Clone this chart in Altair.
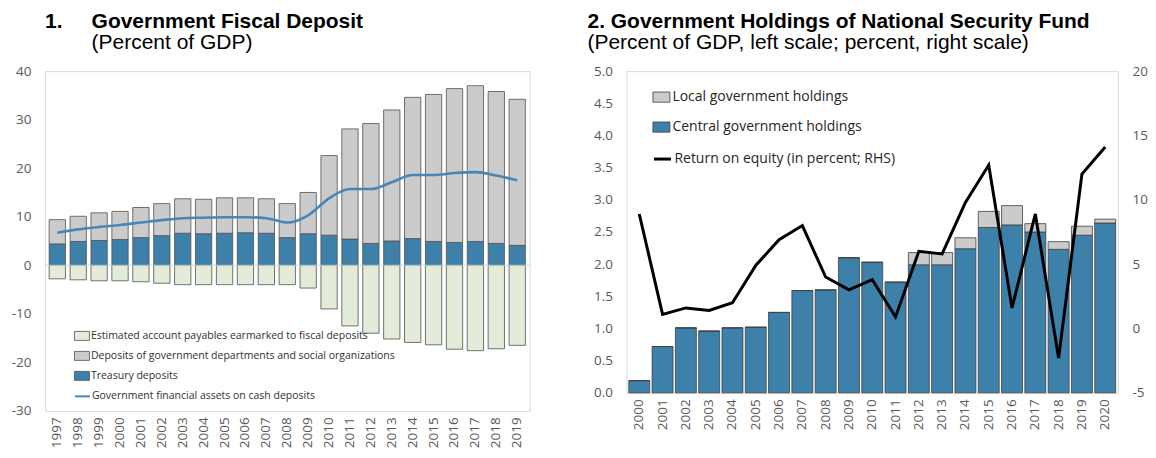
import altair as alt
import pandas as pd

# ---------------- Panel 1 data ----------------
years_l = ["1997", "1998", "1999", "2000", "2001", "2002", "2003", "2004", "2005", "2006", "2007", "2008",
           "2009", "2010", "2011", "2012", "2013", "2014", "2015", "2016", "2017", "2018", "2019"]
treasury = [4.4, 4.9, 5.1, 5.3, 5.7, 6.1, 6.6, 6.5, 6.6, 6.7, 6.6, 5.7,
            6.5, 6.2, 5.4, 4.5, 5.0, 5.5, 4.9, 4.7, 4.9, 4.5, 4.1]
departments = [5.0, 5.2, 5.7, 5.8, 6.2, 6.6, 7.1, 7.1, 7.3, 7.2, 7.1, 7.0,
               8.5, 16.4, 22.7, 24.7, 27.0, 29.1, 30.3, 31.7, 32.1, 31.3, 30.1]
payables = [-2.8, -3.0, -3.2, -3.2, -3.4, -3.7, -4.0, -4.0, -4.0, -4.0, -4.0, -4.0,
            -4.7, -9.0, -12.5, -14.0, -15.2, -15.9, -16.4, -17.3, -17.6, -17.2, -16.5]
fin_assets = [6.7, 7.4, 7.9, 8.3, 8.8, 9.3, 9.7, 9.8, 9.9, 9.9, 9.7, 8.8,
              10.3, 13.8, 15.7, 15.7, 17.1, 18.6, 18.6, 19.0, 19.2, 18.5, 17.5]

n_pay = "Estimated account payables earmarked to fiscal deposits"
n_dep = "Deposits of government departments and social organizations"
n_tre = "Treasury deposits"
n_fin = "Government financial assets on cash deposits"

# ---------------- Panel 2 data ----------------
years_r = ["2000", "2001", "2002", "2003", "2004", "2005", "2006", "2007", "2008", "2009", "2010",
           "2011", "2012", "2013", "2014", "2015", "2016", "2017", "2018", "2019", "2020"]
central = [0.19, 0.72, 1.01, 0.96, 1.01, 1.02, 1.25, 1.59, 1.60, 2.10, 2.03,
           1.72, 1.99, 1.99, 2.24, 2.57, 2.61, 2.50, 2.23, 2.45, 2.64]
local = [0.0, 0.0, 0.0, 0.0, 0.0, 0.0, 0.0, 0.0, 0.0, 0.0, 0.0,
         0.0, 0.19, 0.19, 0.17, 0.25, 0.30, 0.13, 0.12, 0.14, 0.06]
roe = [8.9, 1.1, 1.6, 1.4, 2.0, 4.9, 6.9, 8.0, 4.0, 3.0, 3.8,
       0.9, 6.0, 5.8, 9.8, 12.7, 1.6, 8.9, -2.3, 12.0, 14.1]

n_loc = "Local government holdings"
n_cen = "Central government holdings"
n_roe = "Return on equity (in percent; RHS)"

# ---------------- tables ----------------
rows = []
for i, y in enumerate(years_l):
    rows.append({"year": y, "series": n_pay, "value": payables[i], "ord": 0})
    rows.append({"year": y, "series": n_tre, "value": treasury[i], "ord": 1})
    rows.append({"year": y, "series": n_dep, "value": departments[i], "ord": 2})
df_l = pd.DataFrame(rows)
df_l_line = pd.DataFrame({"year": years_l, "value": fin_assets, "series": n_fin})

rows = []
for i, y in enumerate(years_r):
    rows.append({"year": y, "series": n_cen, "value": central[i], "ord": 1})
    rows.append({"year": y, "series": n_loc, "value": local[i], "ord": 2})
df_r = pd.DataFrame(rows)
df_r_line = pd.DataFrame({"year": years_r, "value": roe, "series": n_roe})

AX_FONT = "Open Sans"
LBL = "#595959"
BLUE = "#3d80aa"
HATCH = "#cbcbcb"
GREEN = "#e3ecd9"
RECT = "M-1,-0.6H1V0.6H-1Z"
HYPHEN = "replace(datum.label, '\u2212', '-')"
NB = "\u00a0"


def x_axis():
    return alt.Axis(title=None, labelAngle=-90, labelFont=AX_FONT, labelFontSize=13.5,
                    labelColor=LBL, ticks=False, domain=False, labelPadding=6,
                    labelBaseline="middle", labelAlign="right")


def title(text, subtitle, dx):
    return alt.TitleParams(
        text=text, subtitle=subtitle, anchor="start", frame="group", dx=dx, offset=11,
        font="Liberation Sans", fontSize=21, fontWeight="bold", color="#000000",
        subtitleFont="Liberation Sans", subtitleFontSize=21, subtitleColor="#000000",
        subtitlePadding=0)


# ---------------- Panel 1 ----------------
bars_l = alt.Chart(df_l).mark_bar(stroke="#505050", strokeWidth=0.8).encode(
    x=alt.X("year:O", sort=years_l, axis=x_axis(),
            scale=alt.Scale(paddingInner=0.22, paddingOuter=0.2)),
    y=alt.Y("value:Q", stack="zero",
            scale=alt.Scale(domain=[-30, 40], nice=False),
            axis=alt.Axis(title=None, values=list(range(-30, 41, 10)), grid=False, ticks=False,
                          domain=False, labelFont=AX_FONT, labelFontSize=13.5, labelColor=LBL,
                          labelPadding=14, labelExpr=HYPHEN)),
    fill=alt.Fill("series:N",
                  scale=alt.Scale(domain=[n_pay, n_dep, n_tre], range=[GREEN, HATCH, BLUE]),
                  legend=alt.Legend(title=None, orient="none", legendX=29, legendY=257,
                                    symbolType=RECT, symbolSize=225, symbolStrokeColor="#505050",
                                    symbolStrokeWidth=0.8, labelFont=AX_FONT, labelFontSize=10.5,
                                    labelColor="#303030", rowPadding=5, labelOffset=1,
                                    labelLimit=500)),
    order=alt.Order("ord:Q"),
)
zero_l = alt.Chart(pd.DataFrame({"z": [0]})).mark_rule(color="#c9d6e3", strokeWidth=1).encode(y="z:Q")
line_l = alt.Chart(df_l_line).mark_line(strokeWidth=2.6, interpolate="monotone").encode(
    x=alt.X("year:O", sort=years_l),
    y=alt.Y("value:Q"),
    stroke=alt.Stroke("series:N", scale=alt.Scale(domain=[n_fin], range=["#4a86b5"]),
                      legend=alt.Legend(title=None, orient="none", legendX=29, legendY=317,
                                        symbolType="stroke", symbolSize=225, symbolStrokeWidth=2,
                                        labelFont=AX_FONT, labelFontSize=10.5, labelColor="#303030",
                                        labelOffset=1, labelLimit=500)),
)
left = alt.layer(bars_l, zero_l, line_l).properties(
    width=485, height=340,
    title=title("1." + NB * 5 + "Government Fiscal Deposit",
                "\u200b" + NB * 8 + "(Percent of GDP)", 0),
).resolve_scale(fill="independent", stroke="independent")

# ---------------- Panel 2 ----------------
bars_r = alt.Chart(df_r).mark_bar(stroke="#404040", strokeWidth=0.8).encode(
    x=alt.X("year:O", sort=years_r, axis=x_axis(),
            scale=alt.Scale(paddingInner=0.1, paddingOuter=0.1)),
    y=alt.Y("value:Q", stack="zero",
            scale=alt.Scale(domain=[0, 5], nice=False),
            axis=alt.Axis(title=None, values=[0, 0.5, 1, 1.5, 2, 2.5, 3, 3.5, 4, 4.5, 5], format=".1f",
                          grid=False, ticks=False, domain=False, labelFont=AX_FONT,
                          labelFontSize=13.5, labelColor=LBL, labelPadding=14)),
    fill=alt.Fill("series:N",
                  scale=alt.Scale(domain=[n_loc, n_cen], range=[HATCH, BLUE]),
                  legend=alt.Legend(title=None, orient="none", legendX=26, legendY=17,
                                    symbolType=RECT, symbolSize=289, symbolStrokeColor="#404040",
                                    symbolStrokeWidth=0.8, labelFont=AX_FONT, labelFontSize=14,
                                    labelColor="#262626", rowPadding=14, labelOffset=2,
                                    labelLimit=500)),
    order=alt.Order("ord:Q"),
)
line_r = alt.Chart(df_r_line).mark_line(strokeWidth=3).encode(
    x=alt.X("year:O", sort=years_r),
    y=alt.Y("value:Q", scale=alt.Scale(domain=[-5, 20], nice=False),
            axis=alt.Axis(title=None, orient="right", values=[-5, 0, 5, 10, 15, 20], grid=False,
                          ticks=False, domain=False, labelFont=AX_FONT, labelFontSize=13.5,
                          labelColor=LBL, labelPadding=14, labelExpr=HYPHEN)),
    stroke=alt.Stroke("series:N", scale=alt.Scale(domain=[n_roe], range=["#000000"]),
                      legend=alt.Legend(title=None, orient="none", legendX=26, legendY=78,
                                        symbolType="stroke", symbolSize=289, symbolStrokeWidth=3,
                                        labelFont=AX_FONT, labelFontSize=14, labelColor="#262626",
                                        labelOffset=2, labelLimit=500)),
)
right = alt.layer(bars_r, line_r).resolve_scale(
    y="independent", fill="independent", stroke="independent"
).properties(
    width=492, height=322,
    title=title("2. Government Holdings of National Security Fund",
                "(Percent of GDP, left scale; percent, right scale)", -39),
)

chart = alt.hconcat(left, right, spacing=56).properties(
    padding={"left": 2, "top": 2, "right": 0, "bottom": 0}
).configure_view(stroke="#d9d9d9", strokeWidth=1)

chart.save("out.html", embed_options={"renderer": "svg", "actions": False})
